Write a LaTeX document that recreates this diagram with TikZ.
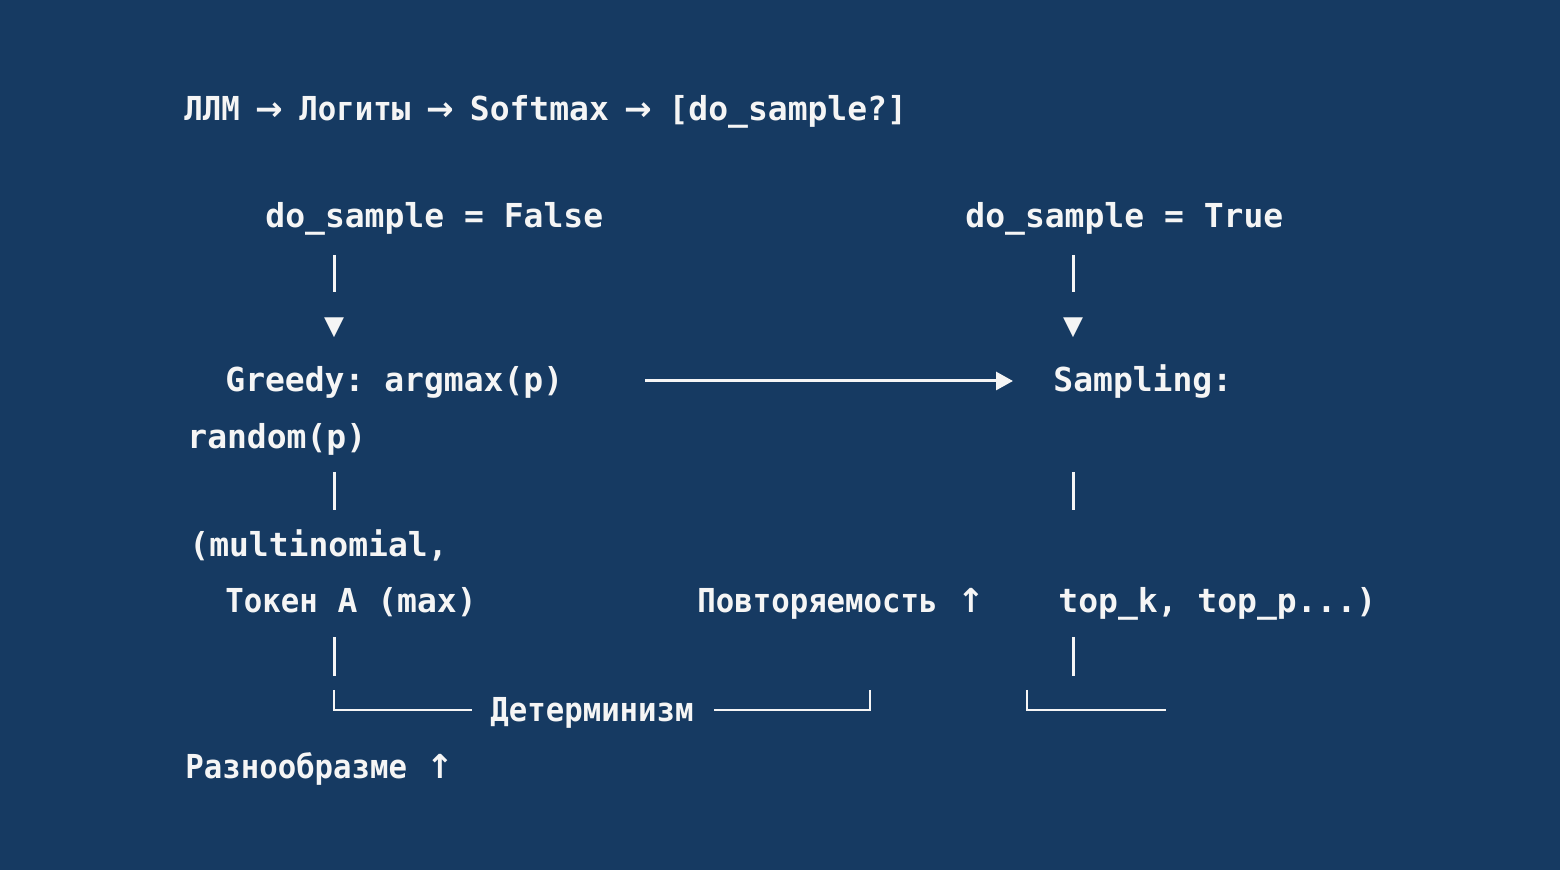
\documentclass[tikz,border=0pt]{standalone}
\usepackage{fontspec}
\setmonofont{DejaVu Sans Mono}
\newfontfamily\cyrmono[FakeStretch=0.93]{DejaVu Sans Mono}
\newfontfamily\symfont{DejaVu Sans}
\newcommand{\cy}[1]{{\cyrmono\bfseries #1}}
\newcommand{\ra}{\makebox[0.602em][c]{\symfont\bfseries →}}
\newcommand{\ua}{{\symfont\bfseries ↑}}
\usetikzlibrary{arrows.meta}
\definecolor{bgblue}{RGB}{22,58,98}
\definecolor{fg}{RGB}{245,245,245}
\tikzset{
  txt/.style={anchor=base west, inner sep=0pt, text=fg, font=\ttfamily\bfseries\fontsize{16.5}{20}\selectfont},
  tri/.style={inner sep=0pt, text=fg, font=\symfont\fontsize{13}{14}\selectfont},
  bar/.style={draw=fg, line width=1.5pt},
  brk/.style={draw=fg, line width=1.4pt},
  arr/.style={draw=fg, line width=1.5pt, -{Triangle[length=8.5pt,width=9pt]}}
}
\begin{document}
\begin{tikzpicture}[x=0.5pt,y=-0.5pt]
\fill[bgblue] (0,0) rectangle (1560,870);
\useasboundingbox (0,0) rectangle (1560,870);

\node[txt] (title) at (184,121) {\cy{ЛЛМ} \ra{} \cy{Логиты} \ra{} Softmax \ra{} [do\_sample?]};
\node[txt] (dsf) at (265,228) {do\_sample = False};
\node[txt] (dst) at (965,228) {do\_sample = True};

% left column
\coordinate (l1a) at (334,255); \coordinate (l1b) at (334,292);
\draw[bar] (l1a) -- (l1b);
\node[tri] (ltri) at (334,328) {▼};
\node[txt] (greedy) at (225,392) {Greedy: argmax(p)};
\node[txt] (random) at (187,449) {random(p)};
\coordinate (l2a) at (334,472); \coordinate (l2b) at (334,510);
\draw[bar] (l2a) -- (l2b);
\node[txt] (multi) at (189,557) {(multinomial,};
\node[txt] (token) at (225,613) {\cy{Токен} A (max)};
\coordinate (l3a) at (334,637); \coordinate (l3b) at (334,676);
\draw[bar] (l3a) -- (l3b);

% right column
\coordinate (r1a) at (1073,255); \coordinate (r1b) at (1073,292);
\draw[bar] (r1a) -- (r1b);
\node[tri] (rtri) at (1073,328) {▼};
\node[txt] (sampling) at (1053,392) {Sampling:};
\coordinate (r2a) at (1073,472); \coordinate (r2b) at (1073,510);
\draw[bar] (r2a) -- (r2b);
\node[txt] (topk) at (1058,613) {top\_k, top\_p...)};
\coordinate (r3a) at (1073,637); \coordinate (r3b) at (1073,676);
\draw[bar] (r3a) -- (r3b);

% middle
\coordinate (harrA) at (645,381);
\coordinate (harrB) at (1013,381);
\draw[arr] (harrA) -- (harrB);
\node[txt] (povt) at (697,613) {\cy{Повторяемость} \ua};

% bracket with label
\node[txt] (determ) at (490,722) {\cy{Детерминизм}};
\coordinate (bl1) at (334,690); \coordinate (bl2) at (334,710); \coordinate (bl3) at (472,710);
\coordinate (br1) at (714,710); \coordinate (br2) at (870,710); \coordinate (br3) at (870,690);
\draw[brk] (bl1) -- (bl2) -- (bl3);
\draw[brk] (br1) -- (br2) -- (br3);
\coordinate (rb1) at (1027,690); \coordinate (rb2) at (1027,710); \coordinate (rb3) at (1166,710);
\draw[brk] (rb1) -- (rb2) -- (rb3);

\node[txt] (razn) at (185,779) {\cy{Разнообразме} \ua};
\end{tikzpicture}
\end{document}
